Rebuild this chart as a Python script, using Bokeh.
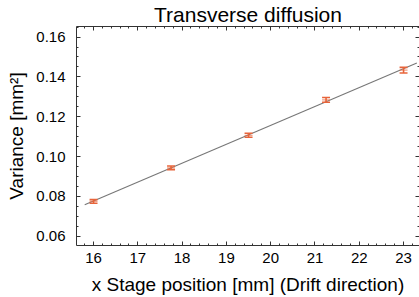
import numpy as np
from bokeh.plotting import figure
from bokeh.models import LinearAxis, FixedTicker, CustomJSTickFormatter, Range1d
from bokeh.embed import file_html
from bokeh.resources import INLINE

# data
stage_x = [16.0, 17.75, 19.5, 21.25, 23.0]
variance = [0.0775, 0.0944, 0.1107, 0.1285, 0.1434]
var_err = [0.0009, 0.0009, 0.0010, 0.0012, 0.0014]
fit_x_span = [15.8, 23.3]
x_ticks = [16, 17, 18, 19, 20, 21, 22, 23]
y_ticks = [0.06, 0.08, 0.10, 0.12, 0.14, 0.16]

coef = np.polyfit(stage_x, variance, 1)
fx = np.array(fit_x_span)
fy = np.polyval(coef, fx)

FONT = "Liberation Sans"
ORANGE = "#E8643A"

p = figure(width=419, height=297, output_backend="svg", toolbar_location=None,
           x_range=Range1d(15.615, 23.36), y_range=Range1d(0.0554, 0.1653),
           min_border_left=76, min_border_right=0, min_border_top=0, min_border_bottom=0)
p.title.text = "Transverse diffusion"
p.title.align = "center"
p.title.text_font = FONT
p.title.text_font_size = "21px"
p.title.text_font_style = "normal"
p.title.text_color = "black"
p.title.offset = 0
p.title.standoff = 1
p.grid.visible = False
p.outline_line_color = None
p.background_fill_color = "white"

p.line(fx, fy, line_color="#777777", line_width=1.1)
lo = [v - e for v, e in zip(variance, var_err)]
hi = [v + e for v, e in zip(variance, var_err)]
p.segment(x0=stage_x, x1=stage_x, y0=lo, y1=hi, line_color=ORANGE, line_width=1.6)
cap = 0.09
for arr in (lo, hi):
    p.segment(x0=[x - cap for x in stage_x], x1=[x + cap for x in stage_x],
              y0=arr, y1=arr, line_color=ORANGE, line_width=1.6)
p.segment(x0=[x - cap for x in stage_x], x1=[x + cap for x in stage_x],
          y0=variance, y1=variance, line_color=ORANGE, line_width=1.2, line_alpha=0.6)

x_minor = [x / 5 for x in range(15 * 5, 24 * 5)]
y_minor = [y / 1000 for y in range(55, 170, 5)]

def style(ax, ticks, minor, labels=True):
    ax.ticker = FixedTicker(ticks=ticks, minor_ticks=minor)
    ax.axis_line_color = "#333333"
    ax.axis_line_width = 1
    ax.major_tick_in = 4
    ax.major_tick_out = 0
    ax.minor_tick_in = 2
    ax.minor_tick_out = 0
    ax.major_tick_line_color = "#333333"
    ax.minor_tick_line_color = "#333333"
    if labels:
        ax.major_label_text_font = FONT
        ax.major_label_text_font_size = "15px"
        ax.major_label_text_color = "black"
        ax.axis_label_text_font = FONT
        ax.axis_label_text_font_size = "19px"
        ax.axis_label_text_font_style = "normal"
        ax.axis_label_text_color = "black"
    else:
        ax.formatter = CustomJSTickFormatter(code="return '';")
        ax.major_label_standoff = 0

style(p.xaxis[0], x_ticks, x_minor)
style(p.yaxis[0], y_ticks, y_minor)
p.xaxis[0].axis_label = "x Stage position [mm] (Drift direction)"
p.yaxis[0].axis_label = "Variance [mm²]"
p.yaxis[0].formatter = CustomJSTickFormatter(code="return tick.toFixed(2);")
p.xaxis[0].major_label_standoff = 7
p.yaxis[0].major_label_standoff = 11
p.xaxis[0].axis_label_standoff = 8
p.yaxis[0].axis_label_standoff = 6

top = LinearAxis()
style(top, x_ticks, x_minor, labels=False)
p.add_layout(top, "above")
right = LinearAxis()
style(right, y_ticks, y_minor, labels=False)
p.add_layout(right, "right")

open("out.html", "w").write(file_html(p, INLINE))
